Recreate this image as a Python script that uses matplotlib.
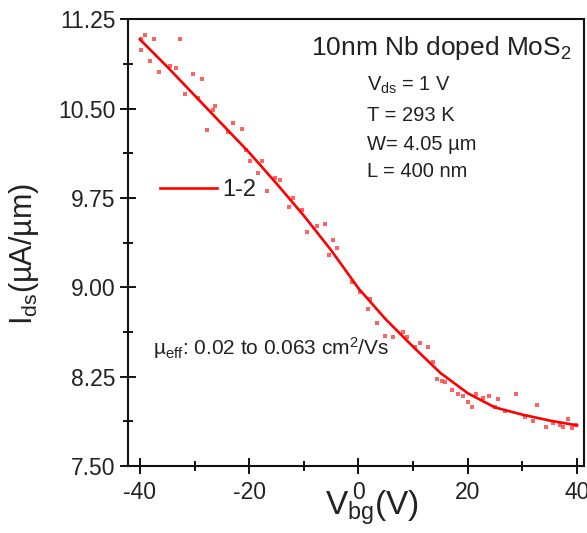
import matplotlib
matplotlib.use('Agg')
import matplotlib.pyplot as plt
import matplotlib.ticker as ticker

plt.rcParams['font.family'] = ['Liberation Sans', 'DejaVu Sans']
plt.rcParams['mathtext.default'] = 'regular'
plt.rcParams['axes.unicode_minus'] = False

# measured points (V_bg, I_ds)
vbg_pts = [-39.8, -39.1, -39.8, -37.4, -32.7, -38.2, -36.5, -34.5, -33.4, -30.3,
           -28.7, -31.8, -29.4, -26.3, -26.6, -27.7, -23.9, -23.0, -21.3, -20.6,
           -19.9, -17.7, -18.4, -15.3, -14.4, -16.8, -12.0, -12.7, -10.3, -7.6,
           -6.1, -9.4, -4.7, -3.9, -5.4, -1.2, 0.3, 2.1, 1.7, 3.4,
           4.9, 6.3, 8.1, 8.9, 10.3, 11.3, 12.7, 13.6, 14.4, 15.3,
           15.8, 17.1, 18.2, 19.1, 20.0, 20.8, 21.5, 22.8, 23.9, 25.5,
           25.0, 28.8, 26.8, 30.5, 31.9, 32.7, 34.3, 35.6, 36.9, 37.4,
           38.4, 39.1, 39.8]
ids_pts = [11.08, 11.12, 10.99, 11.08, 11.08, 10.90, 10.81, 10.86, 10.84, 10.79,
           10.75, 10.62, 10.59, 10.52, 10.49, 10.32, 10.30, 10.38, 10.33, 10.15,
           10.06, 10.06, 9.96, 9.92, 9.90, 9.81, 9.75, 9.67, 9.65, 9.51,
           9.53, 9.46, 9.40, 9.33, 9.27, 9.04, 8.96, 8.90, 8.82, 8.70,
           8.59, 8.58, 8.62, 8.58, 8.50, 8.53, 8.50, 8.37, 8.23, 8.21,
           8.20, 8.14, 8.10, 8.09, 8.04, 7.99, 8.10, 8.07, 8.09, 8.06,
           7.99, 8.10, 7.96, 7.91, 7.88, 8.01, 7.83, 7.86, 7.84, 7.83,
           7.89, 7.82, 7.84]

# fitted curve
vbg_fit = [-40, -35, -30, -25, -20, -15, -10, -5, 0, 5, 10, 15, 20, 25, 30, 35, 40]
ids_fit = [11.08, 10.85, 10.61, 10.37, 10.13, 9.87, 9.60, 9.31, 8.99, 8.73,
           8.50, 8.28, 8.11, 7.99, 7.93, 7.88, 7.84]

params = ['V$_{ds}$ = 1 V', 'T = 293 K', 'W= 4.05 \u00b5m', 'L = 400 nm']

fig = plt.figure(figsize=(5.87, 5.33), dpi=100)
ax = fig.add_axes([0.218, 0.126, 0.777, 0.838])

ax.plot(vbg_pts, ids_pts, 's', color='#ff3030', alpha=0.75, markersize=2.4,
        markeredgewidth=0)
ax.plot(vbg_fit, ids_fit, '-', color='#ff0000', lw=1.9, label='1-2')

ax.set_xlim(-42.2, 41.3)
ax.set_ylim(7.5, 11.25)

ax.xaxis.set_major_locator(ticker.MultipleLocator(20))
ax.xaxis.set_minor_locator(ticker.MultipleLocator(10))
ax.yaxis.set_major_locator(ticker.MultipleLocator(0.75))
ax.yaxis.set_minor_locator(ticker.MultipleLocator(0.375))
ax.yaxis.set_major_formatter(ticker.FormatStrFormatter('%.2f'))

for side in ['left', 'bottom', 'top', 'right']:
    ax.spines[side].set_linewidth(1.5)
    ax.spines[side].set_color('#111111')

ax.tick_params(axis='both', which='both', direction='inout', top=False,
               right=False, width=1.4, colors='#111111', labelcolor='#222222')
ax.tick_params(axis='both', which='major', length=12, labelsize=16.5)
ax.tick_params(axis='both', which='minor', length=7)
ax.tick_params(axis='x', which='major', pad=5)
ax.tick_params(axis='y', which='major', pad=3)

# the "0" tick label sits above the subscript, as in the original figure
ax.set_xlabel('V$_{bg}$(V)', fontsize=24, color='#222222')
ax.xaxis.set_label_coords(0.535, -0.05)
ax.set_ylabel('I$_{ds}$(\u00b5A/\u00b5m)', fontsize=22, color='#222222')
ax.yaxis.set_label_coords(-0.19, 0.474)

ax.text(0.974, 0.919, '10nm Nb doped MoS$_2$', transform=ax.transAxes,
        ha='right', va='baseline', fontsize=19, color='#222222')
param_y = [0.841, 0.772, 0.707, 0.647]
for txt, yy in zip(params, param_y):
    ax.text(0.524, yy, txt, transform=ax.transAxes, ha='left', va='baseline',
            fontsize=14.5, color='#222222')

ax.text(0.055, 0.248, '\u00b5$_{eff}$: 0.02 to 0.063 cm$^2$/Vs',
        transform=ax.transAxes, ha='left', va='baseline', fontsize=15,
        color='#222222')

ax.legend(loc='center left', bbox_to_anchor=(0.07, 0.617), frameon=False,
          fontsize=17, handlelength=2.4, handletextpad=0.25, borderpad=0,
          borderaxespad=0, labelcolor='#222222')

fig.savefig('out.png', dpi=100)
